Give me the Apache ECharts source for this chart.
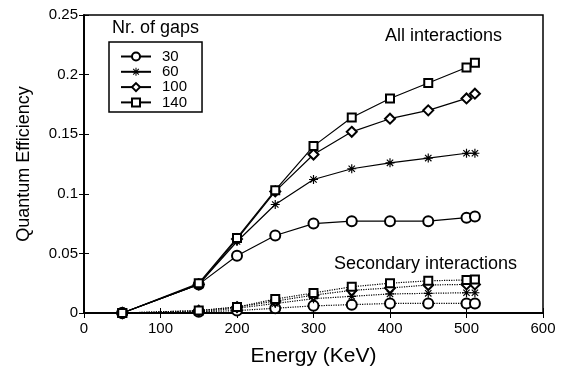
<!DOCTYPE html>
<html><head><meta charset="utf-8">
<script src="https://cdn.jsdelivr.net/npm/echarts@6/dist/echarts.min.js"></script>
<style>html,body{margin:0;padding:0;background:#fff}#c{width:577px;height:372px}</style>
</head><body><div id="c"></div>
<script>
var energy = [50, 150, 200, 250, 300, 350, 400, 450, 500, 511];
var gapNames = ['30', '60', '100', '140'];
var allInt = {
  '30':  [0, 0.024, 0.048, 0.065, 0.075, 0.077, 0.077, 0.077, 0.080, 0.081],
  '60':  [0, 0.024, 0.060, 0.091, 0.112, 0.121, 0.126, 0.130, 0.134, 0.134],
  '100': [0, 0.024, 0.062, 0.102, 0.133, 0.152, 0.163, 0.170, 0.180, 0.184],
  '140': [0, 0.025, 0.063, 0.103, 0.140, 0.164, 0.180, 0.193, 0.206, 0.210]
};
var secInt = {
  '30':  [0, 0.001, 0.002, 0.004, 0.006, 0.007, 0.008, 0.008, 0.008, 0.008],
  '60':  [0, 0.001, 0.004, 0.008, 0.012, 0.014, 0.016, 0.0165, 0.017, 0.017],
  '100': [0, 0.002, 0.005, 0.010, 0.015, 0.019, 0.021, 0.0235, 0.024, 0.024],
  '140': [0, 0.002, 0.005, 0.0117, 0.0168, 0.022, 0.025, 0.027, 0.0277, 0.028]
};
var xTicks = [0, 100, 200, 300, 400, 500, 600];
var yTicks = [0, 0.05, 0.1, 0.15, 0.2, 0.25];

function starPath() {
  var p = '', L = 10, W = 1.3;
  [0, 45, 90, 135].forEach(function (a) {
    var r = a * Math.PI / 180, c = Math.cos(r), s = Math.sin(r);
    var pts = [[L * c - W * -s, L * s - W * c], [L * c + W * -s, L * s + W * c],
               [-L * c + W * -s, -L * s + W * c], [-L * c - W * -s, -L * s - W * c]];
    p += 'M' + pts.map(function (q) { return q[0].toFixed(2) + ',' + q[1].toFixed(2); }).join('L') + 'Z';
  });
  return 'path://' + p;
}
var symbols = { '30': 'emptyCircle', '60': starPath(), '100': 'emptyDiamond', '140': 'emptyRect' };
var sizes = { '30': 10, '60': 9, '100': 10, '140': 8 };

function pairs(arr) { return energy.map(function (e, i) { return [e, arr[i]]; }); }

var series = [];
gapNames.forEach(function (g) {
  series.push({
    name: g, type: 'line', data: pairs(allInt[g]), symbol: symbols[g], symbolSize: sizes[g],
    lineStyle: { color: '#000', width: 1.2 }, itemStyle: { color: '#000', borderWidth: 1 }, z: 3
  });
});
gapNames.forEach(function (g) {
  series.push({
    name: g + ' secondary', type: 'line', data: pairs(secInt[g]), symbol: symbols[g], symbolSize: sizes[g],
    lineStyle: { color: '#000', width: 1.2, type: 'dotted' }, itemStyle: { color: '#000', borderWidth: 1 }, z: 2
  });
});

var font = 'Liberation Sans, Arial, Helvetica, sans-serif';
var chart = echarts.init(document.getElementById('c'), null, { renderer: 'canvas' });
chart.setOption({
  animation: false,
  backgroundColor: '#fff',
  textStyle: { fontFamily: font },
  grid: { left: 84, right: 34, top: 15, bottom: 59, show: true, borderColor: '#000', borderWidth: 1.5 },
  legend: {
    data: gapNames, orient: 'vertical', left: 109, top: 42,
    itemWidth: 30, itemHeight: 10, itemGap: 0.3, padding: [7, 15, 2, 11],
    borderColor: '#000', borderWidth: 1.5, backgroundColor: '#fff',
    textStyle: { fontFamily: font, fontSize: 15, lineHeight: 14, color: '#000', padding: [0, 0, 0, 6] }
  },
  xAxis: [{
    type: 'value', min: 0, max: 600, interval: 100, position: 'bottom',
    axisLine: { show: true, lineStyle: { color: '#000', width: 1.5 } },
    axisTick: { inside: true, length: 5, lineStyle: { color: '#000' } },
    axisLabel: { color: '#000', fontSize: 15, margin: 8, fontFamily: font,
      formatter: function (v) { return xTicks.indexOf(v) >= 0 ? String(v) : ''; } },
    splitLine: { show: false },
    name: 'Energy (KeV)', nameLocation: 'middle', nameGap: 33,
    nameTextStyle: { color: '#000', fontSize: 21, fontFamily: font }
  }, {
    type: 'value', min: 0, max: 600, interval: 100, position: 'top',
    axisLine: { show: true, lineStyle: { color: '#000', width: 1.5 } },
    axisTick: { inside: true, length: 5, lineStyle: { color: '#000' } },
    axisLabel: { show: false }, splitLine: { show: false }
  }],
  yAxis: [{
    type: 'value', min: 0, max: 0.25, interval: 0.05, position: 'left',
    axisLine: { show: true, lineStyle: { color: '#000', width: 1.5 } },
    axisTick: { inside: true, length: 5, lineStyle: { color: '#000' } },
    axisLabel: { color: '#000', fontSize: 15, margin: 6, fontFamily: font,
      formatter: function (v) { var t = yTicks.filter(function (y) { return Math.abs(y - v) < 1e-9; }); return t.length ? String(t[0]) : ''; } },
    splitLine: { show: false },
    name: 'Quantum Efficiency', nameLocation: 'middle', nameGap: 51,
    nameTextStyle: { color: '#000', fontSize: 18, fontFamily: font }
  }, {
    type: 'value', min: 0, max: 0.25, interval: 0.05, position: 'right',
    axisLine: { show: true, lineStyle: { color: '#000', width: 1.5 } },
    axisTick: { inside: true, length: 5, lineStyle: { color: '#000' } },
    axisLabel: { show: false }, splitLine: { show: false }
  }],
  graphic: [
    { type: 'text', left: 112, top: 19, style: { text: 'Nr. of gaps', fontSize: 18, fontFamily: font, fill: '#000' } },
    { type: 'text', left: 385, top: 27, style: { text: 'All interactions', fontSize: 18, fontFamily: font, fill: '#000' } },
    { type: 'text', left: 334, top: 255, style: { text: 'Secondary interactions', fontSize: 18, fontFamily: font, fill: '#000' } }
  ],
  series: series
});
</script></body></html>
